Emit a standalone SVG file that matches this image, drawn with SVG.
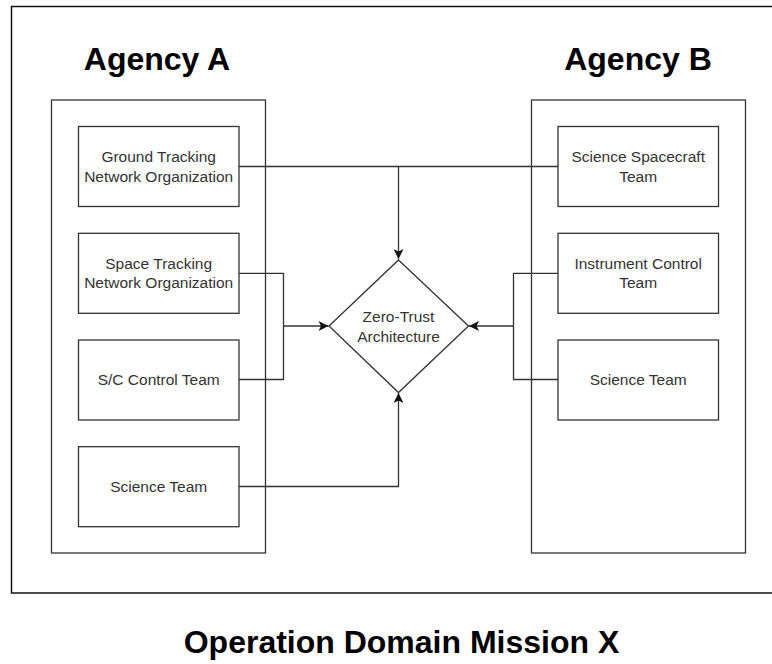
<svg xmlns="http://www.w3.org/2000/svg" width="772" height="664" viewBox="0 0 772 664">
<style>
.box{fill:#fff;stroke:#333;stroke-width:1.3}
.frame{fill:none;stroke:#111;stroke-width:1.5}
.cont{fill:none;stroke:#333;stroke-width:1.3}
.lbl{font-family:"Liberation Sans",Arial,sans-serif;font-size:15.5px;fill:#333;text-anchor:middle}
.title{font-family:"Liberation Sans",Arial,sans-serif;font-size:32px;font-weight:bold;fill:#000;text-anchor:middle}
.edge{fill:none;stroke:#333;stroke-width:1.3}
</style>
<defs>
<marker id="arr" viewBox="0 0 10 10" refX="10" refY="5" markerWidth="10" markerHeight="10" markerUnits="userSpaceOnUse" orient="auto">
<path d="M0,0 L10,5 L0,10 L2.5,5 Z" fill="#111"/>
</marker>
</defs>
<rect width="772" height="664" fill="#fff"/>
<g id="frame">
<rect class="frame" x="11.5" y="6.5" width="800" height="586.5"/>
<text class="title" x="401.5" y="653">Operation Domain Mission X</text>
</g>
<g id="agencyA">
<rect class="cont" x="51.5" y="100" width="214" height="453"/>
<text class="title" x="157" y="70">Agency A</text>
</g>
<g id="agencyB">
<rect class="cont" x="531.5" y="100" width="214" height="453"/>
<text class="title" x="638" y="70">Agency B</text>
</g>
<g id="connectors">
<polyline class="edge" points="239,166.5 558,166.5"/>
<polyline class="edge" points="398.5,166.5 398.5,259" marker-end="url(#arr)"/>
<polyline class="edge" points="239,273.3 283.5,273.3 283.5,379.5 239,379.5"/>
<polyline class="edge" points="283.5,326 328.5,326" marker-end="url(#arr)"/>
<polyline class="edge" points="558,273.3 513.5,273.3 513.5,379.5 558,379.5"/>
<polyline class="edge" points="513.5,326 469,326" marker-end="url(#arr)"/>
<polyline class="edge" points="239,486.5 398.5,486.5 398.5,393" marker-end="url(#arr)"/>
</g>
<g id="groundTracking">
<rect class="box" x="78.5" y="126.5" width="160.5" height="80"/>
<text class="lbl" x="158.7" y="162">Ground Tracking</text>
<text class="lbl" x="158.7" y="181.5">Network Organization</text>
</g>
<g id="spaceTracking">
<rect class="box" x="78.5" y="233.3" width="160.5" height="80"/>
<text class="lbl" x="158.7" y="268.8">Space Tracking</text>
<text class="lbl" x="158.7" y="288.3">Network Organization</text>
</g>
<g id="scControl">
<rect class="box" x="78.5" y="340" width="160.5" height="80"/>
<text class="lbl" x="158.7" y="385">S/C Control Team</text>
</g>
<g id="scienceTeamA">
<rect class="box" x="78.5" y="446.7" width="160.5" height="80"/>
<text class="lbl" x="158.7" y="491.7">Science Team</text>
</g>
<g id="scienceSpacecraft">
<rect class="box" x="558" y="126.5" width="160.5" height="80"/>
<text class="lbl" x="638.2" y="162">Science Spacecraft</text>
<text class="lbl" x="638.2" y="181.5">Team</text>
</g>
<g id="instrumentControl">
<rect class="box" x="558" y="233.3" width="160.5" height="80"/>
<text class="lbl" x="638.2" y="268.8">Instrument Control</text>
<text class="lbl" x="638.2" y="288.3">Team</text>
</g>
<g id="scienceTeamB">
<rect class="box" x="558" y="340" width="160.5" height="80"/>
<text class="lbl" x="638.2" y="385">Science Team</text>
</g>
<g id="zeroTrust">
<polygon class="box" points="398.5,260 468.5,326 398.5,392.5 329,326"/>
<text class="lbl" x="398.5" y="321.7">Zero-Trust</text>
<text class="lbl" x="398.5" y="341.7">Architecture</text>
</g>
</svg>
